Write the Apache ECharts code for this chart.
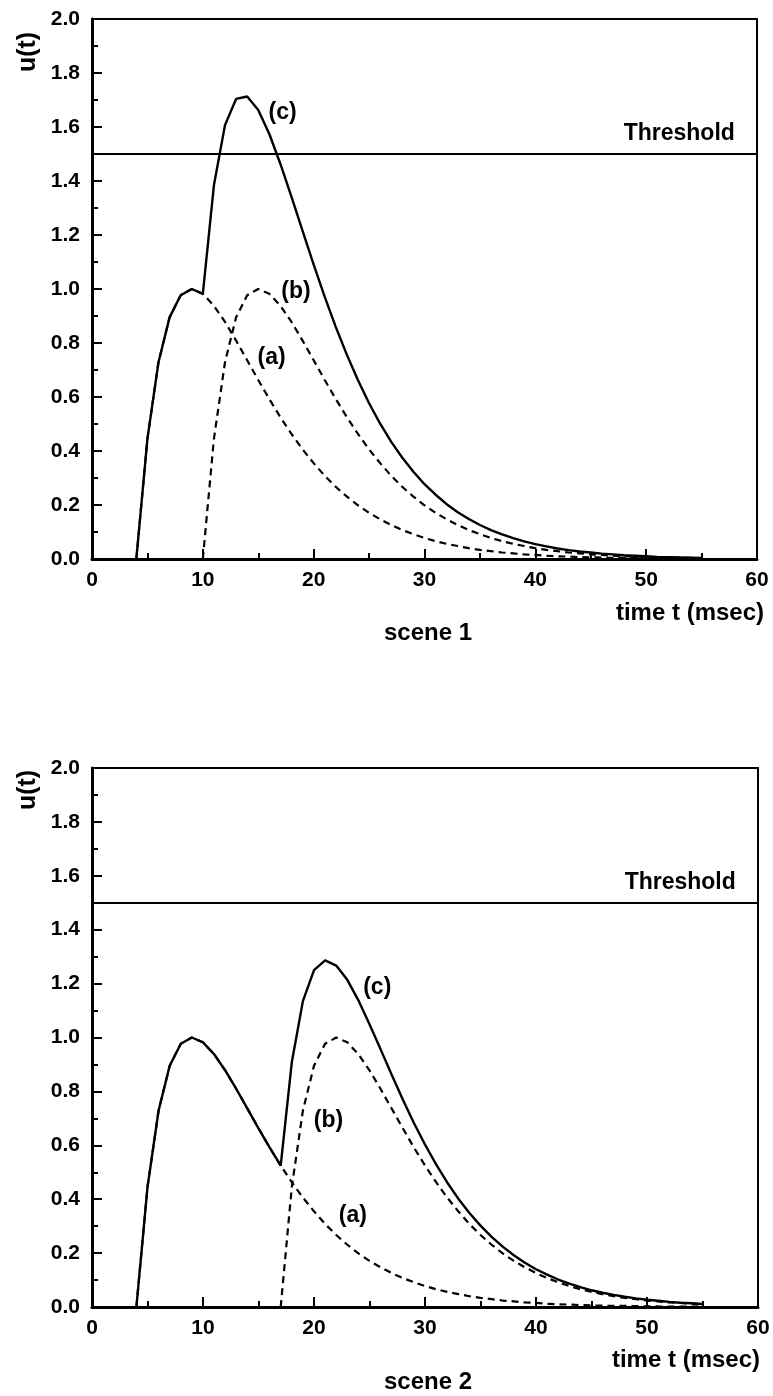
<!DOCTYPE html>
<html>
<head>
<meta charset="utf-8">
<script src="https://cdn.jsdelivr.net/npm/echarts@6/dist/echarts.min.js"></script>
<style>
  html, body { margin: 0; padding: 0; background: #fff; }
  #chart { width: 773px; height: 1396px; }
</style>
</head>
<body>
<div id="chart"></div>
<script>
// ---------- data ----------
const xTicks = [0, 10, 20, 30, 40, 50, 60];
const yTicks = [0.0, 0.2, 0.4, 0.6, 0.8, 1.0, 1.2, 1.4, 1.6, 1.8, 2.0];
const threshold = 1.5;

// sampling times (msec)
const timeA = [4,5,6,7,8,9,10,11,12,13,14,15,16,17,18,19,20,21,22,23,24,25,26,27,28,29,30,31,32,33,34,35,36,37,38,39,40,41,42,43,44,45,46,47,48,49,50,51,52,53,54,55];
const timeB1 = [10,11,12,13,14,15,16,17,18,19,20,21,22,23,24,25,26,27,28,29,30,31,32,33,34,35,36,37,38,39,40,41,42,43,44,45,46,47,48,49,50,51,52,53,54,55];
const timeB2 = [17,18,19,20,21,22,23,24,25,26,27,28,29,30,31,32,33,34,35,36,37,38,39,40,41,42,43,44,45,46,47,48,49,50,51,52,53,54,55];

// scene 1
const scene1A = [0,0.445,0.729,0.895,0.977,1.000,0.982,0.938,0.878,0.809,0.736,0.663,0.592,0.525,0.463,0.406,0.355,0.308,0.267,0.231,0.199,0.171,0.147,0.126,0.107,0.092,0.078,0.066,0.056,0.048,0.040,0.034,0.029,0.024,0.021,0.017,0.015,0.012,0.010,0.009,0.007,0.006,0.005,0.004,0.004,0.003,0.0025,0.002,0.0018,0.0015,0.0012,0.001];
const scene1B = [0,0.445,0.729,0.895,0.977,1.000,0.982,0.938,0.878,0.809,0.736,0.663,0.592,0.525,0.463,0.406,0.355,0.308,0.267,0.231,0.199,0.171,0.147,0.126,0.107,0.092,0.078,0.066,0.056,0.048,0.040,0.034,0.029,0.024,0.021,0.017,0.015,0.012,0.010,0.009,0.007,0.006,0.005,0.004,0.004,0.003];
const scene1C = [0,0.445,0.729,0.895,0.977,1.000,0.982,1.384,1.607,1.704,1.713,1.663,1.574,1.463,1.341,1.215,1.090,0.971,0.859,0.756,0.662,0.577,0.501,0.434,0.375,0.323,0.277,0.238,0.203,0.173,0.148,0.126,0.107,0.091,0.077,0.065,0.055,0.047,0.039,0.033,0.028,0.024,0.020,0.017,0.014,0.012,0.010,0.008,0.007,0.006,0.005,0.004];

// scene 2
const scene2A = [0,0.445,0.729,0.895,0.977,1.000,0.982,0.938,0.878,0.809,0.736,0.663,0.592,0.525,0.463,0.406,0.355,0.308,0.267,0.231,0.199,0.171,0.147,0.126,0.107,0.092,0.078,0.066,0.056,0.048,0.040,0.034,0.029,0.024,0.021,0.017,0.015,0.012,0.010,0.009,0.007,0.006,0.005,0.004,0.004,0.003,0.0025,0.002,0.0018,0.0015,0.0012,0.001];
const scene2B = [0,0.445,0.729,0.895,0.977,1.000,0.982,0.938,0.878,0.809,0.736,0.663,0.592,0.525,0.463,0.406,0.355,0.308,0.267,0.231,0.199,0.171,0.147,0.126,0.107,0.092,0.078,0.066,0.056,0.048,0.040,0.034,0.029,0.024,0.021,0.017,0.015,0.012,0.010];
const scene2C = [0,0.445,0.729,0.895,0.977,1.000,0.982,0.938,0.878,0.809,0.736,0.663,0.592,0.525,0.908,1.135,1.250,1.286,1.267,1.214,1.138,1.049,0.956,0.862,0.770,0.683,0.603,0.529,0.462,0.402,0.349,0.302,0.260,0.224,0.192,0.164,0.140,0.120,0.102,0.087,0.074,0.062,0.053,0.045,0.038,0.032,0.027,0.023,0.019,0.016,0.014,0.011];

// curve labels: [t, u, text]
const labels1 = [[17.2, 1.652, '(c)'], [18.4, 0.989, '(b)'], [16.2, 0.744, '(a)']];
const labels2 = [[25.7, 1.186, '(c)'], [21.3, 0.693, '(b)'], [23.5, 0.340, '(a)']];
const thresholdLabel = 'Threshold';
const sceneNames = ['scene 1', 'scene 2'];
const xName = 'time t (msec)';
const yName = 'u(t)';

// ---------- chart ----------
const FONT = '"Liberation Sans", Arial, Helvetica, sans-serif';
const zip = (ts, vs) => ts.map((t, i) => [t, vs[i]]);

const chart = echarts.init(document.getElementById('chart'), null, { renderer: 'canvas' });

const grids = [
  { left: 92, top: 19, width: 665, height: 540 },
  { left: 92, top: 768, width: 666, height: 539 }
];

function xAxisDef(gi) {
  return {
    gridIndex: gi, type: 'value', min: 0, max: 60, interval: 10,
    axisLine: { show: true, onZero: false, lineStyle: { color: '#000', width: 3 } },
    axisTick: { show: true, inside: true, length: 10, lineStyle: { color: '#000', width: 2 } },
    minorTick: { show: true, splitNumber: 2, length: 6, lineStyle: { color: '#000', width: 2 } },
    splitLine: { show: false }, minorSplitLine: { show: false },
    axisLabel: { color: '#000', fontFamily: FONT, fontWeight: 'bold', fontSize: 21, margin: 11,
      formatter: v => xTicks.includes(v) ? String(v) : '' }
  };
}
function yAxisDef(gi) {
  return {
    gridIndex: gi, type: 'value', min: 0, max: 2, interval: 0.2,
    axisLine: { show: true, onZero: false, lineStyle: { color: '#000', width: 3 } },
    axisTick: { show: true, inside: true, length: 10, lineStyle: { color: '#000', width: 2 } },
    minorTick: { show: true, splitNumber: 2, length: 6, lineStyle: { color: '#000', width: 2 } },
    splitLine: { show: false }, minorSplitLine: { show: false },
    axisLabel: { color: '#000', fontFamily: FONT, fontWeight: 'bold', fontSize: 21, margin: 12,
      formatter: v => v.toFixed(1) }
  };
}

function lineSeries(gi, data, dashed) {
  return {
    type: 'line', xAxisIndex: gi, yAxisIndex: gi, data: data,
    showSymbol: false, symbol: 'none', smooth: false, silent: true,
    lineStyle: { color: '#000', width: dashed ? 2.2 : 2.4, type: dashed ? [7, 5] : 'solid' },
    z: dashed ? 2 : 3
  };
}
function thresholdSeries(gi) {
  return {
    type: 'line', xAxisIndex: gi, yAxisIndex: gi, data: [], silent: true,
    markLine: {
      silent: true, symbol: 'none', animation: false,
      label: { show: false },
      lineStyle: { color: '#000', width: 2, type: 'solid' },
      data: [{ yAxis: threshold }]
    }
  };
}
function labelSeries(gi, items, thr) {
  const data = items.map(d => ({ value: [d[0], d[1]], name: d[2] }));
  data.push({ value: [58.0, thr], name: thresholdLabel,
    label: { align: 'right' } });
  return {
    type: 'scatter', xAxisIndex: gi, yAxisIndex: gi, symbolSize: 0, silent: true,
    itemStyle: { opacity: 1, color: '#000' },
    data: data,
    label: { show: true, position: 'inside', formatter: p => p.name, opacity: 1,
      color: '#000', fontFamily: FONT, fontWeight: 'bold', fontSize: 23, textBorderWidth: 0 },
    z: 5
  };
}

const textStyle = { fill: '#000', font: 'bold 24px ' + FONT };
const yNameStyle = { fill: '#000', font: 'bold 25px ' + FONT };

const option = {
  animation: false,
  backgroundColor: '#fff',
  grid: grids.map(g => Object.assign({ show: true, borderColor: '#000', borderWidth: 2, containLabel: false }, g)),
  xAxis: [xAxisDef(0), xAxisDef(1)],
  yAxis: [yAxisDef(0), yAxisDef(1)],
  series: [
    thresholdSeries(0),
    lineSeries(0, zip(timeA, scene1A), true),
    lineSeries(0, zip(timeB1, scene1B), true),
    lineSeries(0, zip(timeA, scene1C), false),
    labelSeries(0, labels1, 1.574),
    thresholdSeries(1),
    lineSeries(1, zip(timeA, scene2A), true),
    lineSeries(1, zip(timeB2, scene2B), true),
    lineSeries(1, zip(timeA, scene2C), false),
    labelSeries(1, labels2, 1.576)
  ],
  graphic: [
    { type: 'text', x: 764, y: 613, style: Object.assign({ text: xName, textAlign: 'right', textVerticalAlign: 'middle' }, textStyle) },
    { type: 'text', x: 760, y: 1360, style: Object.assign({ text: xName, textAlign: 'right', textVerticalAlign: 'middle' }, textStyle) },
    { type: 'text', x: 428, y: 633, style: Object.assign({ text: sceneNames[0], textAlign: 'center', textVerticalAlign: 'middle' }, textStyle) },
    { type: 'text', x: 428, y: 1382, style: Object.assign({ text: sceneNames[1], textAlign: 'center', textVerticalAlign: 'middle' }, textStyle) },
    { type: 'text', x: 28, y: 52, rotation: Math.PI / 2, style: Object.assign({ text: yName, textAlign: 'center', textVerticalAlign: 'middle' }, yNameStyle) },
    { type: 'text', x: 28, y: 790, rotation: Math.PI / 2, style: Object.assign({ text: yName, textAlign: 'center', textVerticalAlign: 'middle' }, yNameStyle) }
  ]
};

chart.setOption(option);
</script>
</body>
</html>
